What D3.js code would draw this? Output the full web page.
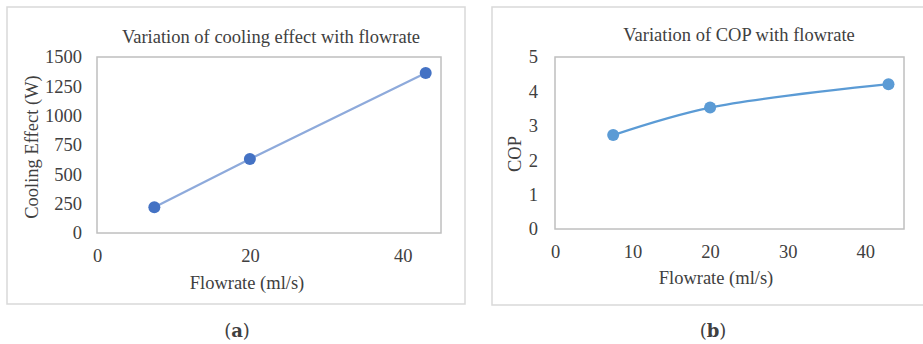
<!DOCTYPE html>
<html>
<head>
<meta charset="utf-8">
<script src="https://cdn.jsdelivr.net/npm/d3@7"></script>
<style>
  body { margin: 0; background: #fff; }
  text { font-family: "Liberation Serif", "Times New Roman", serif; fill: #404040; }
</style>
</head>
<body>
<div id="chart"></div>
<script>
// values
const flowrate = [7.5, 20, 43];
const coolingEffect = [220, 631, 1364];
const cop = [2.73, 3.53, 4.21];

const coolingYTicks = [0, 250, 500, 750, 1000, 1250, 1500];
const coolingXTicks = [0, 20, 40];
const copYTicks = [0, 1, 2, 3, 4, 5];
const copXTicks = [0, 10, 20, 30, 40];

const W = 923, H = 344;
const svg = d3.select("#chart").append("svg")
  .attr("width", W).attr("height", H);

function drawPanel(p) {
  const g = svg.append("g");

  // outer frame
  g.append("rect")
    .attr("x", p.frame[0]).attr("y", p.frame[1])
    .attr("width", p.frame[2]).attr("height", p.frame[3])
    .attr("fill", "none").attr("stroke", "#d9d9d9").attr("stroke-width", 1.5);

  const x = d3.scaleLinear().domain([0, 45]).range([p.left, p.right]);
  const y = d3.scaleLinear().domain(p.yDomain).range([p.bottom, p.top]);

  // plot area border
  g.append("rect")
    .attr("x", p.left).attr("y", p.top)
    .attr("width", p.right - p.left).attr("height", p.bottom - p.top)
    .attr("fill", "none").attr("stroke", "#bfbfbf").attr("stroke-width", 1.5);

  const yAxis = g.append("g")
    .attr("transform", `translate(${p.left},0)`)
    .call(d3.axisLeft(y).tickValues(p.yTicks).tickFormat(d3.format("d"))
      .tickSize(0).tickPadding(p.yPad));
  const xAxis = g.append("g")
    .attr("transform", `translate(0,${p.bottom})`)
    .call(d3.axisBottom(x).tickValues(p.xTicks).tickFormat(d3.format("d"))
      .tickSize(0).tickPadding(p.xPad));
  [yAxis, xAxis].forEach(a => {
    a.select(".domain").remove();
    a.selectAll("text")
      .style("font-family", '"Liberation Serif", serif')
      .style("font-size", "18.5px")
      .attr("fill", "#404040");
  });

  const pts = flowrate.map((f, i) => [f, p.values[i]]);
  const line = d3.line()
    .x(d => x(d[0])).y(d => y(d[1]))
    .curve(p.smooth ? d3.curveCatmullRom.alpha(0.5) : d3.curveLinear);

  g.append("path")
    .attr("d", line(pts))
    .attr("fill", "none")
    .attr("stroke", p.lineColor)
    .attr("stroke-width", 2.25);

  g.selectAll("circle.pt").data(pts).join("circle")
    .attr("class", "pt")
    .attr("cx", d => x(d[0])).attr("cy", d => y(d[1]))
    .attr("r", 6)
    .attr("fill", p.markerColor);

  g.append("text")
    .attr("x", p.titleX).attr("y", p.titleY)
    .attr("text-anchor", "middle")
    .style("font-size", "18.5px")
    .text(p.title);

  g.append("text")
    .attr("x", p.xTitleX).attr("y", p.xTitleY)
    .attr("text-anchor", "middle")
    .style("font-size", "18.5px")
    .text("Flowrate (ml/s)");

  g.append("text")
    .attr("transform", `translate(${p.yTitleX},${p.yTitleY}) rotate(-90)`)
    .attr("text-anchor", "middle")
    .style("font-size", "18.5px")
    .text(p.yTitle);

  svg.append("text")
    .attr("x", p.capX).attr("y", 337)
    .attr("text-anchor", "middle")
    .style("font-size", "18px")
    .style("font-family", '"DejaVu Serif", serif')
    .attr("fill", "#000")
    .html(`(<tspan font-weight="bold">${p.caption}</tspan>)`);
}

drawPanel({
  frame: [7, 7, 458, 297],
  left: 97, right: 441, top: 57, bottom: 233,
  yDomain: [0, 1500], yTicks: coolingYTicks, xTicks: coolingXTicks,
  yPad: 15, xPad: 16,
  values: coolingEffect, smooth: false,
  lineColor: "#8eaadb", markerColor: "#4472c4",
  title: "Variation of cooling effect with flowrate", titleX: 271, titleY: 43,
  xTitleX: 247, xTitleY: 289,
  yTitle: "Cooling Effect (W)", yTitleX: 38, yTitleY: 147,
  capX: 237, caption: "a"
});

drawPanel({
  frame: [492, 7, 440, 298],
  left: 555, right: 904, top: 57, bottom: 229,
  yDomain: [0, 5], yTicks: copYTicks, xTicks: copXTicks,
  yPad: 17, xPad: 16,
  values: cop, smooth: true,
  lineColor: "#5b9bd5", markerColor: "#5b9bd5",
  title: "Variation of COP with flowrate", titleX: 739, titleY: 41,
  xTitleX: 716, xTitleY: 284,
  yTitle: "COP", yTitleX: 521, yTitleY: 154,
  capX: 713, caption: "b"
});
</script>
</body>
</html>
